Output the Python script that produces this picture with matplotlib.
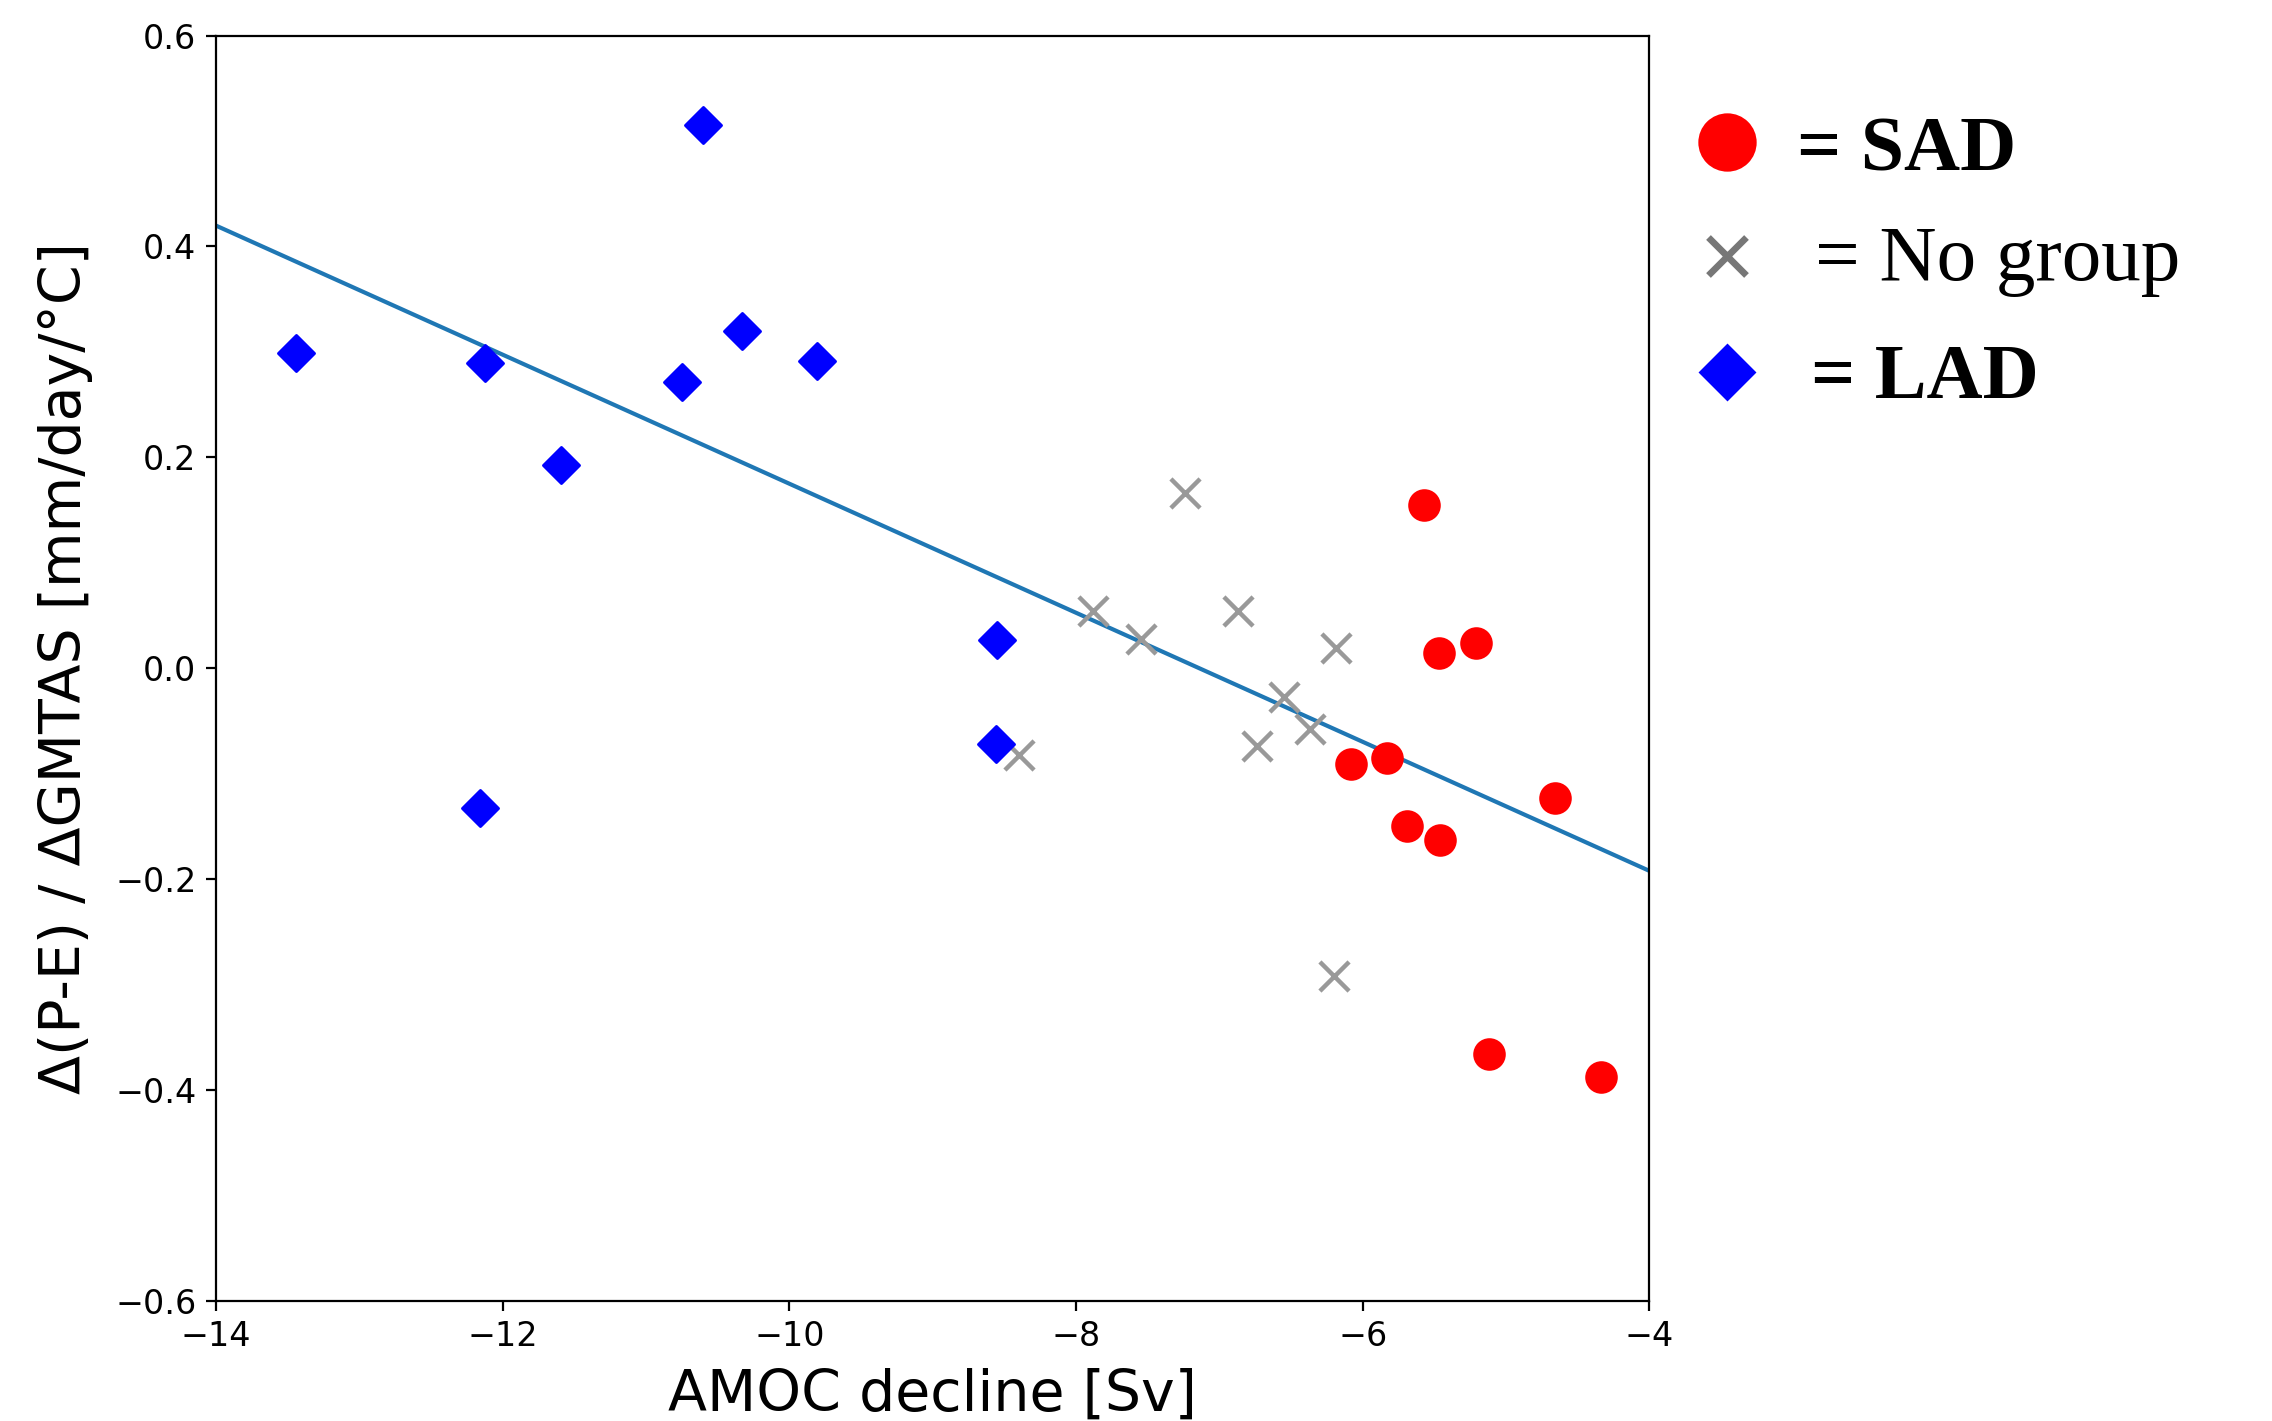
import matplotlib
matplotlib.use("Agg")
import matplotlib.pyplot as plt
import numpy as np

# LAD models (blue diamonds)
lad_x = [-13.44, -12.12, -11.59, -10.60, -10.75, -10.33, -9.81, -12.16, -8.55, -8.56]
lad_y = [0.299, 0.289, 0.193, 0.515, 0.271, 0.320, 0.291, -0.133, 0.027, -0.072]

# models without group (grey crosses)
nog_x = [-7.24, -7.88, -7.55, -6.87, -6.19, -6.55, -6.74, -6.37, -8.40, -6.20]
nog_y = [0.166, 0.054, 0.028, 0.054, 0.019, -0.027, -0.074, -0.058, -0.082, -0.292]

# SAD models (red circles)
sad_x = [-5.57, -5.47, -5.21, -6.08, -5.83, -5.69, -5.46, -4.66, -5.12, -4.34]
sad_y = [0.155, 0.014, 0.024, -0.091, -0.085, -0.150, -0.163, -0.123, -0.366, -0.388]

# regression line
fit_slope = -0.0612
fit_intercept = -0.437

fig = plt.figure(figsize=(11.36, 7.105), dpi=200)
ax = fig.add_axes([0.095, 0.0845, 0.631, 0.8905])

xx = np.array([-14, -4])
ax.plot(xx, fit_slope * xx + fit_intercept, color="#1f77b4", lw=1.5, zorder=1)

ax.scatter(lad_x, lad_y, marker="D", s=85, color="blue", zorder=3)
ax.scatter(nog_x, nog_y, marker="x", s=110, color="#999999", linewidths=1.6, zorder=2)
ax.scatter(sad_x, sad_y, marker="o", s=115, color="red", zorder=3)

ax.set_xlim(-14, -4)
ax.set_ylim(-0.6, 0.6)
ax.set_xticks([-14, -12, -10, -8, -6, -4])
ax.set_yticks([-0.6, -0.4, -0.2, 0.0, 0.2, 0.4, 0.6])
ax.tick_params(labelsize=12)
ax.set_xlabel("AMOC decline [Sv]", fontsize=20.5, labelpad=5)
ax.set_ylabel("Δ(P-E) / ΔGMTAS [mm/day/°C]", fontsize=20.5, labelpad=8)

# hand-made legend at the right
lg = fig.add_axes([0, 0, 1, 1])
lg.set_xlim(0, 1)
lg.set_ylim(0, 1)
lg.axis("off")
lg.plot(0.760, 0.900, "o", ms=20, color="red")
lg.plot(0.760, 0.820, "x", ms=14, mew=2.4, color="#777777")
lg.plot(0.760, 0.738, "D", ms=14, color="blue")

serif = "Liberation Serif"
fig.text(0.791, 0.880, "= SAD", fontsize=28, fontweight="bold", family=serif)
fig.text(0.799, 0.803, "= No group", fontsize=28.5, family=serif)
fig.text(0.797, 0.720, "= LAD", fontsize=28, fontweight="bold", family=serif)

fig.savefig("out.png", dpi=200)
